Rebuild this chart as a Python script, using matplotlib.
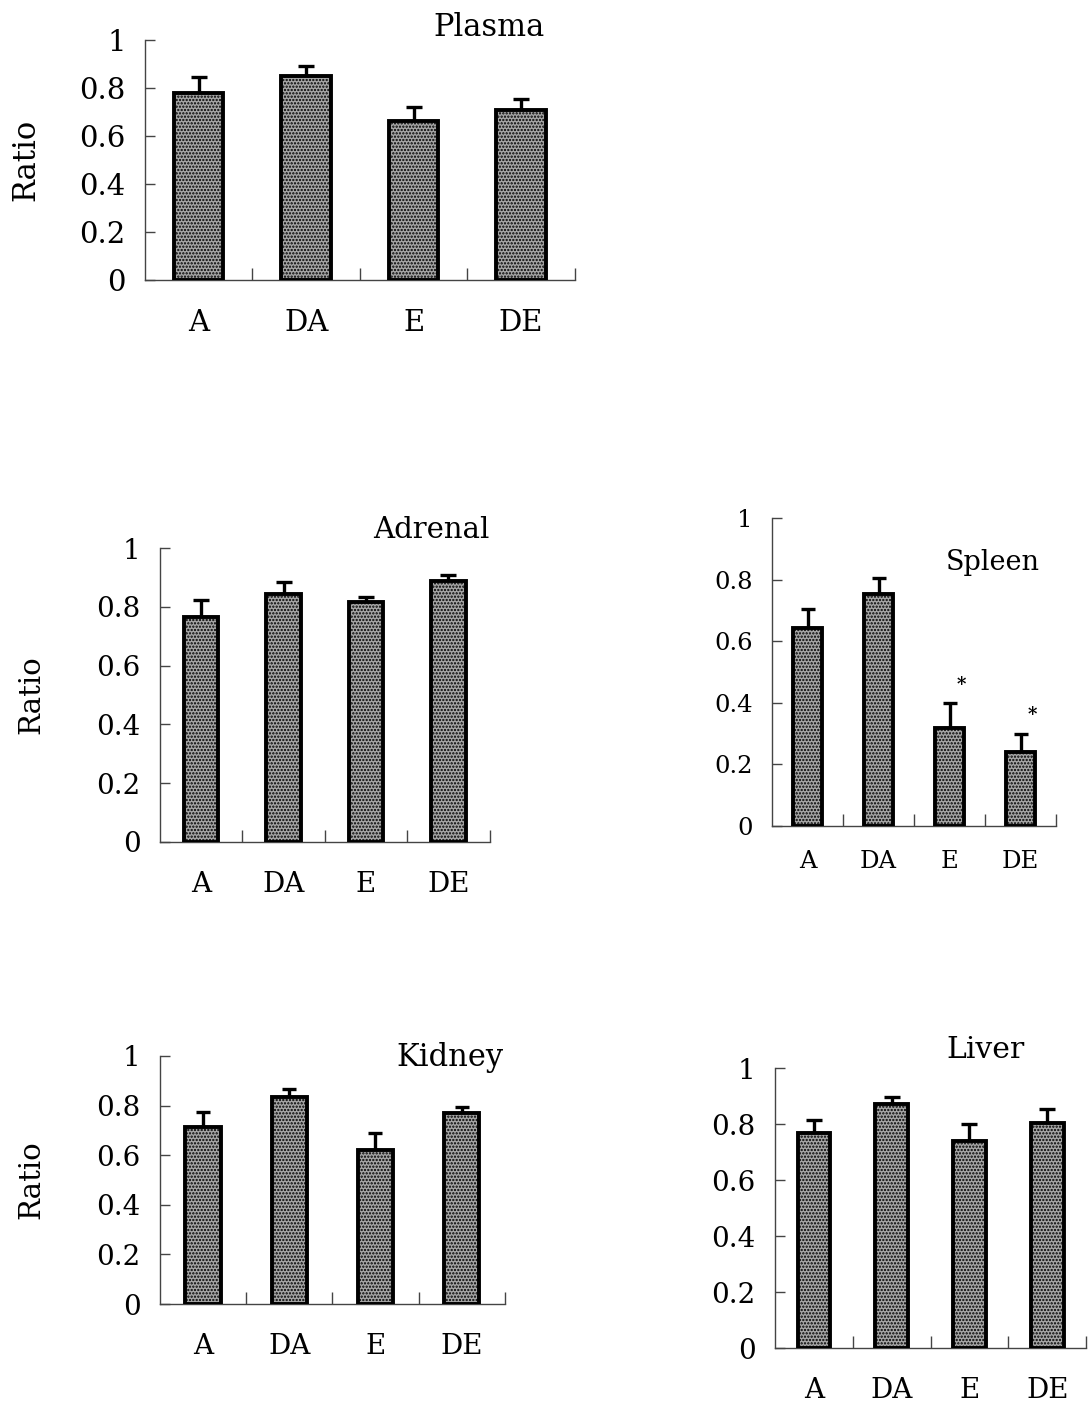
import matplotlib
matplotlib.use("Agg")
import matplotlib.pyplot as plt
import numpy as np

plt.rcParams["font.family"] = ["DejaVu Serif"]
plt.rcParams["hatch.linewidth"] = 1.1

categories = ["A", "DA", "E", "DE"]
yticks = [0, 0.2, 0.4, 0.6, 0.8, 1.0]
ytick_labels = ["0", "0.2", "0.4", "0.6", "0.8", "1"]

plasma_mean = [0.777, 0.850, 0.663, 0.708]
plasma_err = [0.067, 0.041, 0.057, 0.045]

adrenal_mean = [0.764, 0.844, 0.818, 0.889]
adrenal_err = [0.059, 0.042, 0.017, 0.019]

spleen_mean = [0.643, 0.755, 0.317, 0.242]
spleen_err = [0.061, 0.049, 0.081, 0.057]
spleen_sig = [False, False, True, True]

kidney_mean = [0.715, 0.836, 0.621, 0.772]
kidney_err = [0.059, 0.030, 0.067, 0.021]

liver_mean = [0.768, 0.870, 0.738, 0.805]
liver_err = [0.048, 0.028, 0.061, 0.048]

fig = plt.figure(figsize=(10.88, 14.07), dpi=100)


def panel(rect, title, means, errs, title_xy, fs, title_fs, bar_w=0.43,
          ylabel=True, ylabel_x=None, sig=None, label_pad=14):
    ax = fig.add_axes(rect)
    x = np.arange(len(categories))
    ax.bar(x, means, width=bar_w, facecolor="#a6a6a6", edgecolor="black",
           hatch=".....", linewidth=2.8, zorder=3)
    ax.errorbar(x, means, yerr=[np.zeros(len(errs)), errs], fmt="none",
                ecolor="black", elinewidth=2.4, capsize=bar_w * 13,
                capthick=2.4, zorder=2)
    if sig is not None:
        for xi, m, e, s in zip(x, means, errs, sig):
            if s:
                ax.text(xi + 0.16, m + e + 0.06, "*", ha="center",
                        va="center", fontsize=13, fontweight="bold")
    ax.set_xlim(-0.5, len(categories) - 0.5)
    ax.set_ylim(0, 1)
    for side in ("top", "right"):
        ax.spines[side].set_visible(False)
    for side in ("left", "bottom"):
        ax.spines[side].set_color("#444444")
        ax.spines[side].set_linewidth(1.0)
    ax.set_yticks(yticks)
    ax.set_yticklabels(ytick_labels, fontsize=fs)
    ax.tick_params(axis="y", direction="in", length=7, width=1.0,
                   color="#444444", pad=14)
    ax.set_xticks(x)
    ax.set_xticklabels(categories, fontsize=fs)
    ax.tick_params(axis="x", which="major", length=0, pad=label_pad)
    ax.set_xticks(np.arange(0.5, len(categories), 1.0), minor=True)
    ax.tick_params(axis="x", which="minor", direction="in", length=9,
                   width=1.0, color="#444444")
    ax.text(title_xy[0], title_xy[1], title, transform=ax.transAxes,
            ha="center", va="center", fontsize=title_fs)
    if ylabel:
        fig.text(ylabel_x, rect[1] + rect[3] * 0.5, "Ratio", rotation=90,
                 ha="center", va="center", fontsize=fs + 1)
    return ax


panel([0.1333, 0.801, 0.395, 0.1706], "Plasma", plasma_mean, plasma_err,
      (0.80, 1.05), 21, 22, bar_w=0.46, ylabel_x=0.024, label_pad=21)
panel([0.147, 0.4016, 0.303, 0.2089], "Adrenal", adrenal_mean, adrenal_err,
      (0.824, 1.061), 20, 21, bar_w=0.42, ylabel_x=0.029, label_pad=21)
panel([0.7096, 0.4129, 0.261, 0.2189], "Spleen", spleen_mean, spleen_err,
      (0.778, 0.857), 17.5, 19.5, bar_w=0.41, ylabel=False, sig=spleen_sig,
      label_pad=17)
panel([0.147, 0.0732, 0.317, 0.1763], "Kidney", kidney_mean, kidney_err,
      (0.84, 0.992), 20, 22, bar_w=0.41, ylabel_x=0.029, label_pad=21)
panel([0.7123, 0.0419, 0.286, 0.199], "Liver", liver_mean, liver_err,
      (0.675, 1.064), 20, 21.5, bar_w=0.42, ylabel=False, label_pad=21)

fig.savefig("out.png", dpi=100, facecolor="white")
